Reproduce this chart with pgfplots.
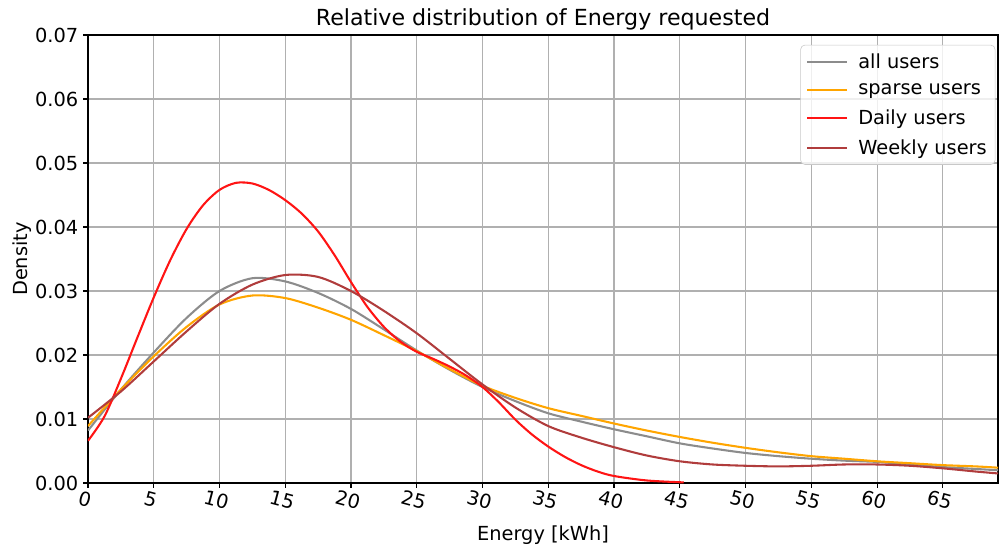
\documentclass[border=0pt]{standalone}
\usepackage{pgfplots}
\pgfplotsset{compat=1.18}
\usepackage{fontspec}
\setmainfont{DejaVu Sans}

\definecolor{cgray}{HTML}{8C8C8C}
\definecolor{corange}{HTML}{FFA500}
\definecolor{cred}{HTML}{FF1414}
\definecolor{cbrown}{HTML}{B03C3C}
\definecolor{cgrid}{HTML}{B0B0B0}

\begin{document}
\begin{tikzpicture}
\useasboundingbox (-2.235cm,-1.626cm) rectangle (23.164cm,12.269cm);
\begin{axis}[
    scale only axis, width=23.114cm, height=11.38cm,
    font=\fontsize{14}{16.8}\selectfont,
    /pgf/number format/assume math mode=true,
    xmin=0, xmax=69.2, ymin=0, ymax=0.07,
    xtick={0,5,...,65},
    ytick={0,0.01,...,0.07},
    yticklabel style={/pgf/number format/fixed, /pgf/number format/precision=2, /pgf/number format/fixed zerofill},
    scaled y ticks=false,
    xticklabel style={rotate=-15, anchor=north},
    tick align=outside, tick pos=left,
    major tick length=3.5pt,
    axis line style={line width=0.8pt},
    every tick/.style={black, line width=0.8pt},
    grid=major, grid style={cgrid, line width=0.8pt},
    title={Relative distribution of Energy requested},
    title style={font=\fontsize{16}{19.2}\selectfont, yshift=-6pt},
    xlabel={Energy [kWh]}, ylabel={Density},
    xlabel style={yshift=-4pt},
    ylabel style={yshift=-4pt},
    legend cell align=left,
    legend style={at={(0.997,0.978)}, anchor=north east, draw=cgrid!70, rounded corners=3pt,
        fill=white, fill opacity=0.8, text opacity=1, font=\fontsize{14}{16.8}\selectfont,
        row sep=5.5pt, inner xsep=4pt, inner ysep=4pt},
    legend image code/.code={\draw[#1] (0cm,0cm) -- (1.0cm,0cm); \path (1.2cm,0cm);},
    every axis plot/.append style={line width=1.5pt, smooth, no markers},
]
\addplot[cgray] coordinates {(0,0.0082) (2.5,0.0146) (5,0.0204) (7.5,0.0258) (10,0.0300) (12.5,0.0320) (15,0.0315) (17.5,0.0297) (20,0.0272) (22.5,0.0240) (25,0.0207) (27.5,0.0177) (30,0.0150) (32.5,0.0128) (35,0.0109) (37.5,0.0096) (40,0.0084) (42.5,0.0073) (45,0.0062) (47.5,0.0054) (50,0.0047) (52.5,0.0042) (55,0.0038) (57.5,0.0035) (60,0.0033) (62.5,0.0029) (65,0.0025) (67.5,0.0022) (69.2,0.0020)};
\addlegendentry{all users}
\addplot[corange] coordinates {(0,0.0089) (2.5,0.0146) (5,0.0198) (7.5,0.0244) (10,0.0279) (12.5,0.0293) (15,0.0289) (17.5,0.0274) (20,0.0255) (22.5,0.0231) (25,0.0206) (27.5,0.0178) (30,0.0152) (32.5,0.0133) (35,0.0117) (37.5,0.0105) (40,0.0093) (42.5,0.0082) (45,0.0072) (47.5,0.0063) (50,0.0055) (52.5,0.0048) (55,0.0042) (57.5,0.0038) (60,0.0034) (62.5,0.0031) (65,0.0028) (67.5,0.0026) (69.2,0.0024)};
\addlegendentry{sparse users}
\addplot[cred] coordinates {(0,0.0066) (1.25,0.0104) (2.5,0.0163) (3.75,0.0227) (5,0.0290) (6.25,0.0348) (7.5,0.0397) (8.75,0.0434) (10,0.0458) (11.25,0.0469) (12.5,0.0468) (13.75,0.0458) (15,0.0442) (16.25,0.0421) (17.5,0.0393) (18.75,0.0356) (20,0.0314) (21.25,0.0275) (22.5,0.0244) (23.75,0.0221) (25,0.0205) (26.25,0.0194) (27.5,0.0182) (28.75,0.0168) (30,0.0150) (31.25,0.0126) (32.5,0.0099) (33.75,0.0076) (35,0.0057) (36.25,0.0041) (37.5,0.0028) (38.75,0.0018) (40,0.0011) (42.5,0.0004) (45.3,0.0001)};
\addlegendentry{Daily users}
\addplot[cbrown] coordinates {(0,0.0102) (2.5,0.0143) (5,0.0190) (7.5,0.0237) (10,0.0280) (12.5,0.0310) (15,0.0325) (17.5,0.0322) (20,0.0300) (22.5,0.0269) (25,0.0234) (27.5,0.0194) (30,0.0154) (32.5,0.0118) (35,0.0089) (37.5,0.0071) (40,0.0056) (42.5,0.0043) (45,0.0034) (47.5,0.0029) (50,0.0027) (52.5,0.0026) (55,0.0027) (57.5,0.0029) (60,0.0029) (62.5,0.0027) (65,0.0023) (67.5,0.0018) (69.2,0.0015)};
\addlegendentry{Weekly users}
\end{axis}
\end{tikzpicture}
\end{document}
